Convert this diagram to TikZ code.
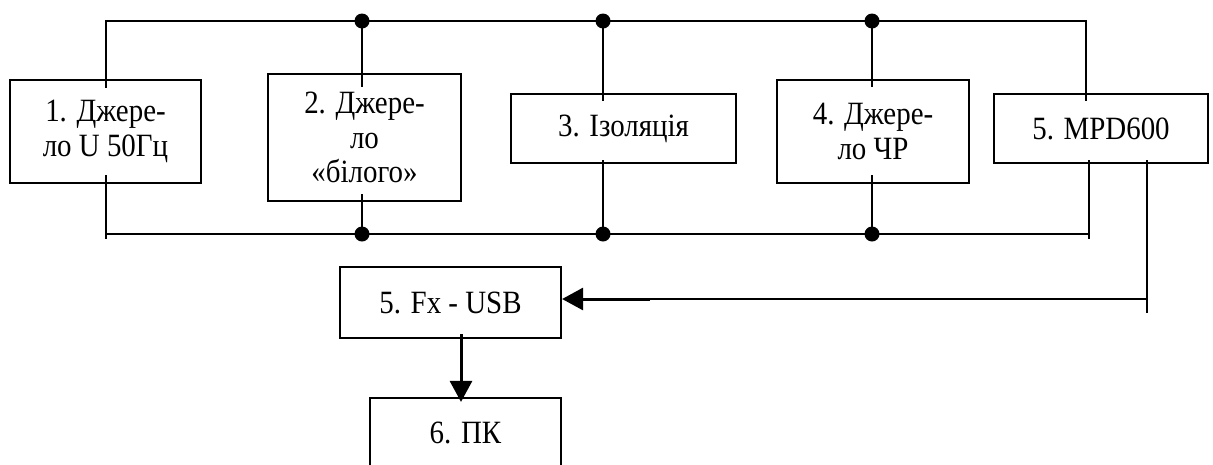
\documentclass[tikz,border=0pt]{standalone}
\usepackage{fontspec}
\setmainfont{Liberation Serif}
\newfontfamily\boxfont[FakeStretch=0.89]{Liberation Serif}
\usetikzlibrary{arrows.meta}
\begin{document}
\begin{tikzpicture}[x=1pt,y=-1pt,
  wire/.style={line width=2.2pt},
  thickwire/.style={line width=3pt},
  box/.style={draw,line width=2.2pt,inner sep=0pt,align=center,
    font=\boxfont\fontsize{32.5}{34.5}\selectfont},
  junction/.style={fill=black},
  bigtip/.style={-{Triangle[length=21pt,width=22pt]}}
]
\useasboundingbox (0,0) rectangle (1213,464);
\clip (0,0) rectangle (1213,464);
\fill[white] (0,0) rectangle (1213,464);

% boxes
\node[box,minimum width=191pt,minimum height=103pt] (b1) at (105.5,131.5) {1. Джере-\\ло U 50Гц};
\node[box,minimum width=193pt,minimum height=127pt] (b2) at (364.5,137.5) {2. Джере-\\ло\\«білого»};
\node[box,minimum width=225pt,minimum height=69pt] (b3) at (623.5,128.5) {3. Ізоляція};
\node[box,minimum width=192pt,minimum height=103pt] (b4) at (873,131.5) {4. Джере-\\ло ЧР};
\node[box,minimum width=214pt,minimum height=69pt] (b5) at (1101,128.5) {5. MPD600};
\node[box,minimum width=221pt,minimum height=71pt] (fx) at (450.5,302.5) {5. Fx - USB};
\node[box,minimum width=191pt,minimum height=69pt] (pc) at (465.5,432.5) {6. ПК};

% bus coordinates
\coordinate (tl) at (106,21);
\coordinate (tr) at (1086,21);
\coordinate (j2) at (362,21);
\coordinate (j3) at (603,21);
\coordinate (j4) at (872,21);
\coordinate (bl) at (106,239);
\coordinate (bL) at (106,234);
\coordinate (bR) at (1089,234);
\coordinate (bRe) at (1089,239);
\coordinate (k2) at (362,234);
\coordinate (k3) at (603,234);
\coordinate (k4) at (872,234);
\coordinate (m5) at (1147,313);
\coordinate (m5h) at (1147,299);
\coordinate (mid) at (650,299);
\coordinate (ax) at (461,302);

% top bus
\draw[wire] ([yshift=-9pt]tl |- b1.north) -- (tl) -- (tr) -- ([yshift=-8pt]tr |- b5.north);
\draw[wire] (j2) -- ([yshift=-14pt]j2 |- b2.north);
\draw[wire] (j3) -- ([yshift=-8pt]j3 |- b3.north);
\draw[wire] (j4) -- ([yshift=-8pt]j4 |- b4.north);

% bottom bus
\draw[wire] ([yshift=9pt]bl |- b1.south) -- (bl);
\draw[wire] (bL) -- (bR);
\draw[wire] ([yshift=4pt]bRe |- b5.south) -- (bRe);
\draw[wire] ([yshift=8pt]k2 |- b2.south) -- (k2);
\draw[wire] ([yshift=4pt]k3 |- b3.south) -- (k3);
\draw[wire] ([yshift=9pt]k4 |- b4.south) -- (k4);

% junction dots
\foreach \p in {j2,j3,j4,k2,k3,k4} \fill[junction] (\p) circle (7.5);

% MPD600 -> Fx-USB
\draw[wire] ([yshift=4pt]m5 |- b5.south) -- (m5);
\draw[wire] (m5h) -- (mid);
\draw[thickwire,bigtip] (mid) -- (mid -| fx.east);

% Fx-USB -> PC
\draw[thickwire,bigtip] ([yshift=5pt]ax |- fx.south) -- ([yshift=-5pt]ax |- pc.north);
\end{tikzpicture}
\end{document}
